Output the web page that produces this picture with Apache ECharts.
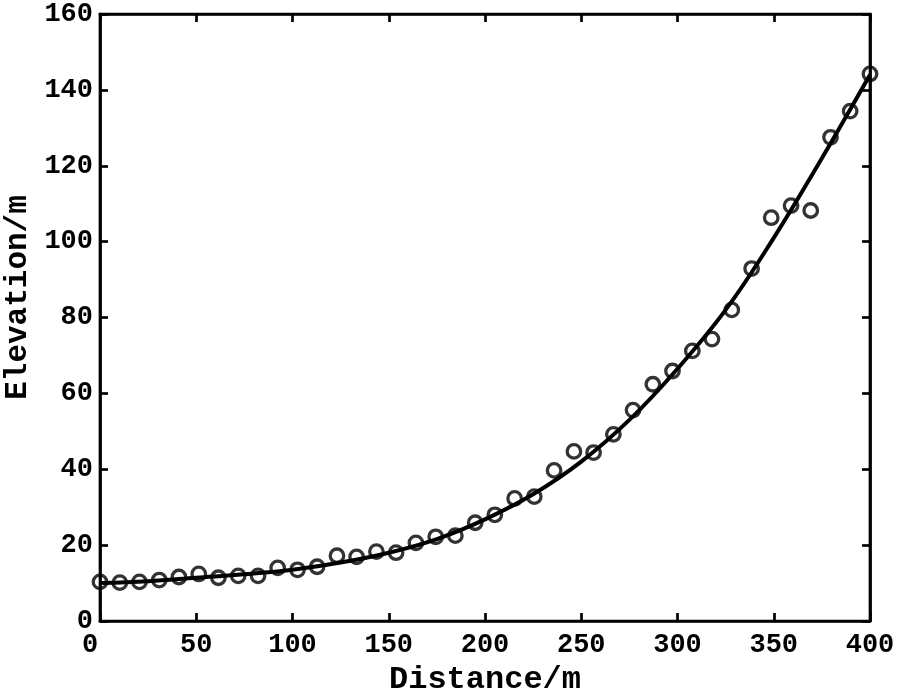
<!DOCTYPE html>
<html>
<head>
<meta charset="utf-8">
<script src="https://cdn.jsdelivr.net/npm/echarts@6/dist/echarts.min.js"></script>
<style>html,body{margin:0;padding:0;background:#fff}#c{width:898px;height:695px}</style>
</head>
<body>
<div id="c"></div>
<script>
const distance = [0, 10.3, 20.5, 30.8, 41, 51.3, 61.5, 71.8, 82.1, 92.3, 102.6, 112.8, 123.1, 133.3, 143.6, 153.8, 164.1, 174.4, 184.6, 194.9, 205.1, 215.4, 225.6, 235.9, 246.2, 256.4, 266.7, 276.9, 287.2, 297.4, 307.7, 317.9, 328.2, 338.5, 348.7, 359, 369.2, 379.5, 389.7, 400];
const elevation = [10.3, 10.1, 10.3, 10.8, 11.6, 12.4, 11.4, 11.9, 11.9, 14.0, 13.5, 14.3, 17.2, 16.9, 18.3, 18.0, 20.6, 22.2, 22.5, 25.9, 28.0, 32.3, 32.8, 39.7, 44.7, 44.4, 49.2, 55.6, 62.4, 65.9, 71.2, 74.3, 82.0, 92.9, 106.3, 109.5, 108.2, 127.5, 134.4, 144.2];
const fitX = [0, 25, 50, 75, 100, 125, 150, 175, 200, 225, 250, 275, 300, 325, 350, 375, 400];
const fitY = [10, 10.5, 11.4, 12.3, 13.5, 15.4, 18, 21.6, 26.8, 33.4, 42, 53, 66.5, 82, 101, 122, 144];
const xTicks = [0, 50, 100, 150, 200, 250, 300, 350, 400];
const yTicks = [0, 20, 40, 60, 80, 100, 120, 140, 160];

const FONT = '"Liberation Mono", "DejaVu Sans Mono", monospace';
function axLine() { return {show: true, onZero: false, lineStyle: {color: '#000', width: 2.7}}; }
function tick() { return {show: true, inside: true, length: 8, lineStyle: {color: '#000', width: 2.7}}; }
const labelFont = {fontFamily: FONT, fontWeight: 'bold', fontSize: 27, color: '#000'};

const chart = echarts.init(document.getElementById('c'));
chart.setOption({
  animation: false,
  backgroundColor: '#fff',
  grid: {left: 100, right: 28, top: 14, bottom: 74, containLabel: false, outerBoundsMode: 'none',
    show: true, borderColor: '#000', borderWidth: 2.7, backgroundColor: 'transparent'},
  xAxis: [{
    type: 'value', gridIndex: 0, min: 0, max: 400, interval: 50, position: 'bottom',
    name: 'Distance/m', nameLocation: 'middle', nameGap: 41,
    nameTextStyle: {fontFamily: FONT, fontWeight: 'bold', fontSize: 32, color: '#000'},
    axisLine: axLine(),
    axisTick: tick(),
    axisLabel: Object.assign({margin: 11,
      formatter: v => !xTicks.includes(v) ? '' : (v === 0 ? '{z|0}' : String(v)),
      rich: {z: Object.assign({padding: [0, 20, 0, 0]}, labelFont)}}, labelFont),
    splitLine: {show: false}
  }, {
    type: 'value', gridIndex: 0, min: 0, max: 400, interval: 50, position: 'top', show: true,
    axisLine: axLine(),
    axisTick: tick(), axisLabel: {show: false}, splitLine: {show: false}
  }],
  yAxis: [{
    type: 'value', gridIndex: 0, min: 0, max: 160, interval: 20, position: 'left',
    name: 'Elevation/m', nameLocation: 'middle', nameGap: 65, nameRotate: 90,
    nameTextStyle: {fontFamily: FONT, fontWeight: 'bold', fontSize: 31, color: '#000', padding: [0, 0, 0, 40]},
    axisLine: axLine(),
    axisTick: tick(),
    axisLabel: Object.assign({margin: 7,
      formatter: v => yTicks.includes(v) ? String(v) : ''}, labelFont),
    splitLine: {show: false}
  }, {
    type: 'value', gridIndex: 0, min: 0, max: 160, interval: 20, position: 'right', show: true,
    axisLine: axLine(),
    axisTick: tick(), axisLabel: {show: false}, splitLine: {show: false}
  }],
  series: [{
    type: 'line',
    data: fitX.map((x, i) => [x, fitY[i]]),
    smooth: 0.4, showSymbol: false, symbol: 'none',
    lineStyle: {color: '#000', width: 4},
    z: 2
  }, {
    type: 'scatter',
    data: distance.map((x, i) => [x, elevation[i]]),
    symbol: 'circle', symbolSize: 13.5,
    itemStyle: {color: 'rgba(0,0,0,0)', borderColor: '#000', borderWidth: 3.3},
    z: 3
  }, {
    type: 'scatter', xAxisIndex: 1, yAxisIndex: 1, data: [], silent: true
  }]
});
</script>
</body>
</html>
